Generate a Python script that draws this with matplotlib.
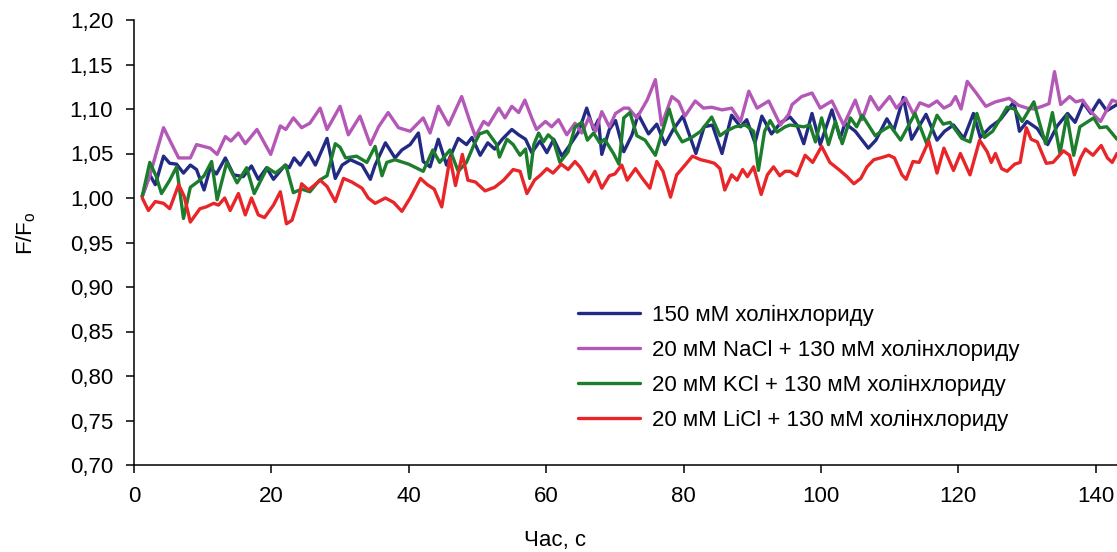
import matplotlib
matplotlib.use("Agg")
import matplotlib.pyplot as plt

plt.rcParams['font.family'] = ['Liberation Sans', 'DejaVu Sans']

# ---- data ----
t_blue = [1.2, 2.3, 3.1, 4.3, 5.2, 6.2, 7.2, 8.2, 9.1, 10.2, 11.1, 12.0, 13.3, 14.5, 15.9, 17.1, 18.1,
          19.3, 20.3, 22.0, 22.6, 23.3, 24.2, 25.4, 26.4, 28.1, 29.3, 30.3, 31.5, 33.2, 34.4, 35.1,
          36.6, 38.0, 39.0, 40.2, 41.4, 42.1, 43.1, 44.3, 45.5, 47.2, 48.4, 49.2, 50.4, 51.5, 52.5,
          53.6, 55.0, 56.0, 57.0, 57.9, 59.1, 60.1, 61.1, 62.3, 63.5, 64.7, 65.9, 66.9, 67.6, 68.1,
          69.2, 70.1, 71.3, 72.5, 73.4, 74.9, 76.1, 77.3, 78.5, 79.9, 81.8, 83.0, 84.2, 85.6, 87.0,
          88.3, 89.2, 90.4, 91.4, 92.8, 94.2, 95.5, 96.5, 97.5, 98.7, 99.9, 101.6, 102.8, 103.5,
          105.0, 106.9, 108.0, 109.6, 110.6, 112.0, 113.2, 115.3, 116.9, 118.0, 119.3, 120.8, 122.2,
          123.2, 124.7, 126.1, 128.1, 128.9, 130.0, 131.5, 133.0, 134.4, 135.9, 137.0, 138.2, 139.3,
          140.5, 141.6, 143.1]
v_blue = [1.002, 1.026, 1.015, 1.047, 1.039, 1.038, 1.028, 1.037, 1.032, 1.009, 1.034, 1.027, 1.045,
          1.026, 1.024, 1.036, 1.021, 1.034, 1.021, 1.037, 1.034, 1.045, 1.037, 1.051, 1.037, 1.067,
          1.022, 1.037, 1.043, 1.037, 1.021, 1.037, 1.062, 1.045, 1.054, 1.060, 1.073, 1.041, 1.035,
          1.066, 1.037, 1.067, 1.060, 1.068, 1.048, 1.062, 1.055, 1.066, 1.077, 1.071, 1.066, 1.051,
          1.064, 1.051, 1.066, 1.047, 1.060, 1.074, 1.101, 1.077, 1.088, 1.049, 1.077, 1.087, 1.052,
          1.071, 1.094, 1.072, 1.083, 1.060, 1.077, 1.092, 1.050, 1.080, 1.082, 1.050, 1.093, 1.080,
          1.088, 1.062, 1.092, 1.072, 1.085, 1.091, 1.082, 1.061, 1.095, 1.060, 1.099, 1.067, 1.084,
          1.075, 1.056, 1.065, 1.089, 1.076, 1.113, 1.066, 1.094, 1.065, 1.075, 1.082, 1.067, 1.095,
          1.068, 1.080, 1.088, 1.108, 1.075, 1.086, 1.078, 1.060, 1.081, 1.095, 1.085, 1.107, 1.095,
          1.110, 1.098, 1.105]

t_purple = [1.2, 2.3, 3.4, 4.3, 5.2, 6.5, 8.2, 9.1, 10.1, 11.1, 12.1, 13.3, 14.1, 15.2, 16.2, 17.9,
            19.9, 21.3, 22.1, 23.2, 24.4, 25.6, 27.1, 28.1, 30.0, 31.2, 32.9, 34.4, 35.6, 37.0, 38.5,
            40.2, 42.1, 43.1, 44.3, 45.8, 47.7, 48.9, 49.7, 50.9, 51.6, 53.1, 54.0, 55.0, 56.0, 56.9,
            57.9, 58.6, 59.9, 60.8, 61.8, 63.0, 64.2, 65.2, 66.2, 67.2, 68.1, 69.2, 70.1, 71.3, 72.0,
            73.2, 74.7, 75.9, 76.8, 78.3, 79.3, 80.2, 81.7, 82.9, 84.1, 85.6, 87.0, 88.3, 89.5, 90.7,
            92.4, 94.1, 95.3, 95.8, 97.2, 98.7, 99.9, 101.6, 103.3, 105.0, 106.0, 107.2, 108.4, 110.0,
            111.0, 112.3, 113.5, 114.4, 115.7, 116.9, 117.9, 118.9, 119.6, 120.4, 121.3, 122.6, 124.0,
            125.4, 127.4, 128.8, 130.0, 131.0, 132.2, 133.2, 134.0, 134.9, 136.2, 137.1, 138.1, 139.3,
            140.7, 142.4, 143.1]
v_purple = [1.002, 1.025, 1.055, 1.079, 1.065, 1.045, 1.045, 1.060, 1.058, 1.056, 1.049, 1.069, 1.064,
            1.073, 1.061, 1.077, 1.049, 1.081, 1.077, 1.090, 1.079, 1.084, 1.101, 1.077, 1.103, 1.071,
            1.092, 1.060, 1.080, 1.096, 1.079, 1.075, 1.090, 1.073, 1.103, 1.082, 1.114, 1.086, 1.069,
            1.086, 1.082, 1.101, 1.090, 1.103, 1.096, 1.110, 1.090, 1.077, 1.086, 1.080, 1.088, 1.071,
            1.084, 1.073, 1.090, 1.075, 1.097, 1.080, 1.095, 1.101, 1.101, 1.090, 1.110, 1.133, 1.082,
            1.114, 1.108, 1.092, 1.109, 1.101, 1.102, 1.099, 1.101, 1.086, 1.120, 1.101, 1.109, 1.082,
            1.094, 1.105, 1.114, 1.118, 1.101, 1.109, 1.082, 1.110, 1.088, 1.114, 1.099, 1.114, 1.101,
            1.112, 1.094, 1.107, 1.103, 1.109, 1.101, 1.105, 1.114, 1.100, 1.131, 1.118, 1.103, 1.108,
            1.112, 1.104, 1.101, 1.100, 1.103, 1.106, 1.142, 1.105, 1.114, 1.108, 1.110, 1.097, 1.086,
            1.110, 1.108]

t_green = [1.2, 2.3, 3.2, 4.0, 5.2, 6.2, 7.2, 8.2, 9.4, 10.2, 11.3, 12.1, 13.5, 15.0, 16.4, 17.5, 19.4,
           20.6, 22.1, 23.2, 24.4, 25.6, 27.0, 28.1, 29.3, 30.0, 30.8, 32.4, 33.9, 35.1, 36.1, 36.8,
           38.0, 40.0, 42.1, 43.5, 44.5, 46.0, 47.2, 48.4, 49.5, 50.3, 51.4, 52.8, 53.2, 54.3, 55.2,
           56.2, 57.0, 57.6, 58.2, 58.9, 59.6, 60.3, 61.0, 62.0, 63.2, 64.2, 65.2, 66.0, 66.9, 67.8,
           68.5, 69.8, 70.6, 71.3, 72.2, 73.2, 74.4, 75.9, 77.9, 78.8, 79.8, 81.2, 82.5, 84.1, 85.3,
           86.2, 87.5, 89.0, 90.2, 90.9, 91.8, 92.6, 93.6, 94.8, 95.5, 97.5, 98.4, 99.2, 100.1, 101.1,
           102.1, 103.1, 104.3, 105.2, 106.0, 107.9, 109.0, 110.1, 111.6, 113.7, 115.4, 116.9, 117.8,
           118.8, 120.5, 121.7, 122.7, 123.8, 125.0, 126.1, 127.1, 128.2, 129.3, 131.0, 131.8, 132.7,
           133.7, 134.8, 135.8, 136.8, 137.7, 138.7, 139.7, 140.6, 141.6, 143.1]
v_green = [1.002, 1.040, 1.025, 1.005, 1.020, 1.035, 0.977, 1.012, 1.019, 1.025, 1.041, 0.998, 1.040,
           1.017, 1.034, 1.005, 1.034, 1.028, 1.037, 1.006, 1.010, 1.007, 1.020, 1.025, 1.061, 1.057,
           1.045, 1.047, 1.040, 1.058, 1.025, 1.040, 1.043, 1.038, 1.030, 1.054, 1.040, 1.054, 1.030,
           1.040, 1.060, 1.072, 1.075, 1.060, 1.046, 1.066, 1.060, 1.048, 1.055, 1.022, 1.060, 1.073,
           1.063, 1.071, 1.066, 1.040, 1.052, 1.080, 1.085, 1.065, 1.073, 1.062, 1.066, 1.050, 1.038,
           1.090, 1.096, 1.070, 1.065, 1.048, 1.100, 1.076, 1.063, 1.068, 1.075, 1.091, 1.070, 1.075,
           1.080, 1.082, 1.075, 1.031, 1.075, 1.087, 1.074, 1.080, 1.082, 1.080, 1.082, 1.063, 1.090,
           1.060, 1.086, 1.061, 1.090, 1.080, 1.093, 1.070, 1.076, 1.081, 1.065, 1.095, 1.061, 1.093,
           1.083, 1.085, 1.067, 1.063, 1.095, 1.068, 1.075, 1.089, 1.102, 1.100, 1.086, 1.108, 1.085,
           1.061, 1.096, 1.050, 1.093, 1.048, 1.080, 1.085, 1.090, 1.079, 1.080, 1.066]

t_red = [1.2, 2.1, 3.1, 4.3, 5.2, 6.5, 7.3, 8.2, 9.6, 10.5, 11.6, 12.3, 13.2, 14.0, 15.2, 16.2, 17.1,
         18.1, 19.0, 20.3, 21.3, 22.2, 23.0, 24.0, 24.4, 25.4, 26.2, 27.1, 28.1, 29.3, 30.5, 31.7,
         33.2, 34.1, 35.1, 36.6, 37.8, 39.0, 40.2, 41.7, 42.7, 43.7, 44.8, 46.0, 46.8, 47.8, 48.6,
         49.7, 51.1, 52.5, 53.8, 55.2, 56.2, 57.2, 58.3, 59.2, 60.1, 61.0, 62.2, 63.2, 64.2, 65.0,
         66.2, 67.1, 68.1, 69.2, 70.0, 71.0, 71.8, 73.0, 74.0, 75.1, 76.1, 77.0, 78.1, 79.0, 80.0,
         81.3, 82.5, 83.6, 84.5, 85.3, 86.0, 87.0, 87.8, 88.6, 89.3, 90.2, 91.3, 92.2, 93.1, 94.0,
         94.8, 95.5, 96.5, 97.7, 98.8, 100.1, 101.3, 102.6, 103.8, 104.8, 105.8, 106.7, 107.7, 109.1,
         109.9, 110.7, 111.8, 112.4, 113.4, 114.3, 115.7, 116.9, 117.9, 119.3, 120.3, 121.7, 123.1,
         124.2, 124.8, 125.4, 126.3, 127.1, 128.2, 129.0, 129.9, 130.6, 131.5, 132.8, 133.8, 135.3,
         136.2, 136.9, 137.8, 138.5, 139.6, 140.8, 141.7, 142.4, 143.1]
v_red = [1.000, 0.986, 0.996, 0.994, 0.988, 1.015, 1.002, 0.973, 0.988, 0.990, 0.994, 0.992, 1.000,
         0.986, 1.005, 0.981, 1.000, 0.981, 0.978, 0.992, 1.007, 0.971, 0.975, 1.000, 1.016, 1.009,
         1.014, 1.020, 1.013, 0.996, 1.022, 1.018, 1.011, 1.000, 0.994, 1.000, 0.995, 0.985, 1.000,
         1.022, 1.015, 1.010, 0.990, 1.045, 1.014, 1.049, 1.020, 1.018, 1.008, 1.012, 1.020, 1.032,
         1.030, 1.005, 1.020, 1.026, 1.033, 1.028, 1.038, 1.032, 1.041, 1.034, 1.018, 1.030, 1.011,
         1.025, 1.027, 1.037, 1.020, 1.033, 1.022, 1.011, 1.041, 1.030, 1.001, 1.026, 1.035, 1.047,
         1.043, 1.041, 1.039, 1.033, 1.009, 1.026, 1.020, 1.032, 1.024, 1.035, 1.004, 1.026, 1.035,
         1.025, 1.030, 1.030, 1.025, 1.048, 1.040, 1.058, 1.040, 1.032, 1.024, 1.016, 1.022, 1.035,
         1.043, 1.046, 1.048, 1.045, 1.026, 1.021, 1.041, 1.040, 1.064, 1.028, 1.056, 1.031, 1.050,
         1.026, 1.065, 1.052, 1.040, 1.050, 1.033, 1.030, 1.038, 1.040, 1.079, 1.066, 1.063, 1.039,
         1.040, 1.053, 1.048, 1.026, 1.045, 1.055, 1.048, 1.059, 1.045, 1.040, 1.050]

labels = ["150 мМ холінхлориду",
          "20 мМ NaCl + 130 мМ холінхлориду",
          "20 мМ KCl + 130 мМ холінхлориду",
          "20 мМ LiCl + 130 мМ холінхлориду"]
colors = ["#232a84", "#b458b8", "#1c7d2c", "#e8262a"]

x_ticks = [0, 20, 40, 60, 80, 100, 120, 140]
y_ticks = [0.70, 0.75, 0.80, 0.85, 0.90, 0.95, 1.00, 1.05, 1.10, 1.15, 1.20]

FS = 16

# ---- figure ----
fig = plt.figure(figsize=(11.17, 5.52), dpi=100)
ax = fig.add_axes([134/1117, 1-465/552, 1-134/1117, (465-20)/552])

series = [(t_blue, v_blue), (t_purple, v_purple), (t_green, v_green), (t_red, v_red)]
for (t, v), c, lab in zip(series, colors, labels):
    ax.plot(t, v, color=c, lw=2.4, label=lab, solid_joinstyle='round', solid_capstyle='round')

ax.set_xlim(0, 143.1)
ax.set_ylim(0.70, 1.20)
ax.set_xticks(x_ticks)
ax.set_xticklabels([str(x) for x in x_ticks])
ax.set_yticks(y_ticks)
ax.set_yticklabels([f"{y:.2f}".replace('.', ',') for y in y_ticks])

for s in ['top', 'right']:
    ax.spines[s].set_visible(False)
for s in ['left', 'bottom']:
    ax.spines[s].set_linewidth(1.1)
ax.tick_params(axis='both', direction='out', length=6, width=1.1, labelsize=FS)
ax.tick_params(axis='x', pad=9)
ax.tick_params(axis='y', pad=9)

ax.set_xlabel("Час, с", fontsize=FS)
ax.xaxis.set_label_coords(0.428, -0.145)
ax.set_ylabel(r"$\mathregular{F/F_o}$", fontsize=FS)
ax.yaxis.set_label_coords(-0.098, 0.52)

ax.legend(loc='upper left', bbox_to_anchor=(578/1117, 1-305/552), bbox_transform=fig.transFigure,
          frameon=False, fontsize=FS, handlelength=2.8, handletextpad=0.54,
          labelspacing=0.62, borderpad=0, borderaxespad=0)

fig.savefig("out.png", dpi=100)
